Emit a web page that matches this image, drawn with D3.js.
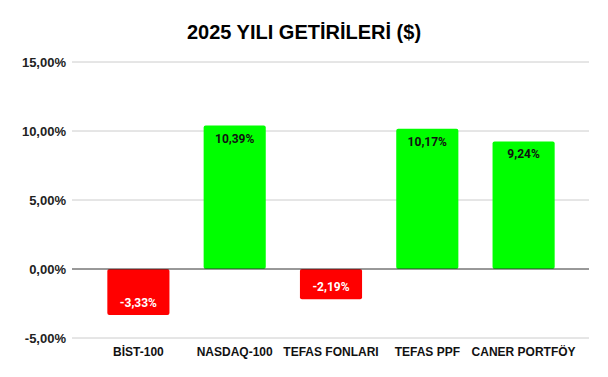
<!DOCTYPE html>
<html>
<head>
<meta charset="utf-8">
<script src="https://cdn.jsdelivr.net/npm/d3@7"></script>
<style>
  body { margin: 0; background: #fff; }
</style>
</head>
<body>
<svg id="chart" width="608" height="377"></svg>
<script>
var categories = ["BİST-100", "NASDAQ-100", "TEFAS FONLARI", "TEFAS PPF", "CANER PORTFÖY"];
var returns = [-3.33, 10.39, -2.19, 10.17, 9.24];
var yTicks = [-5, 0, 5, 10, 15];

var fmt = function(v){ return v.toFixed(2).replace(".", ",") + "%"; };

var svg = d3.select("#chart");

var x = d3.scaleBand()
    .domain(categories)
    .range([90, 572])
    .paddingInner(0.355)
    .paddingOuter(0.18);

var y = d3.scaleLinear()
    .domain([-5, 15])
    .range([338, 62]);

// title
svg.append("text")
    .attr("x", 304)
    .attr("y", 39)
    .attr("text-anchor", "middle")
    .style("font-family", "Liberation Sans, Arial, sans-serif")
    .style("font-weight", "bold")
    .style("font-size", "20px")
    .style("fill", "#000")
    .text("2025 YILI GETİRİLERİ ($)");

// gridlines
svg.append("g").selectAll("line")
    .data(yTicks.filter(function(d){ return d !== 0; }))
    .join("line")
    .attr("x1", 72).attr("x2", 589)
    .attr("y1", function(d){ return y(d); })
    .attr("y2", function(d){ return y(d); })
    .attr("stroke", "#cccccc")
    .attr("stroke-width", 1);

// y tick labels
var yAxis = svg.append("g")
    .attr("transform", "translate(72,0)")
    .call(d3.axisLeft(y).tickValues(yTicks).tickSize(0).tickPadding(6).tickFormat(fmt));
yAxis.select(".domain").remove();
yAxis.selectAll("text")
    .style("font-family", "Liberation Sans, Arial, sans-serif")
    .style("font-weight", "bold")
    .style("font-size", "13px")
    .style("fill", "#222");

// bars
svg.append("g").selectAll("rect")
    .data(returns)
    .join("rect")
    .attr("x", function(d, i){ return x(categories[i]); })
    .attr("width", x.bandwidth())
    .attr("y", function(d){ return y(Math.max(0, d)); })
    .attr("height", function(d){ return Math.abs(y(d) - y(0)); })
    .attr("rx", 2)
    .attr("fill", function(d){ return d < 0 ? "#ff0000" : "#00ff00"; });

// zero line
svg.append("line")
    .attr("x1", 72).attr("x2", 589)
    .attr("y1", y(0)).attr("y2", y(0))
    .attr("stroke", "#333")
    .attr("stroke-width", 1);

// value labels
svg.append("g").selectAll("text")
    .data(returns)
    .join("text")
    .attr("x", function(d, i){ return x(categories[i]) + x.bandwidth() / 2; })
    .attr("y", function(d){ return d < 0 ? y(d) - 8 : y(d) + 17; })
    .attr("text-anchor", "middle")
    .style("font-family", "Roboto, sans-serif")
    .style("font-weight", "bold")
    .style("font-size", "12px")
    .style("fill", function(d){ return d < 0 ? "#fff" : "#111"; })
    .text(fmt);

// x labels
var xAxis = svg.append("g")
    .attr("transform", "translate(0,338)")
    .call(d3.axisBottom(x).tickSize(0).tickPadding(9));
xAxis.select(".domain").remove();
xAxis.selectAll("text")
    .style("font-family", "Liberation Sans, Arial, sans-serif")
    .style("font-weight", "bold")
    .style("font-size", "12px")
    .style("fill", "#111");
</script>
</body>
</html>
